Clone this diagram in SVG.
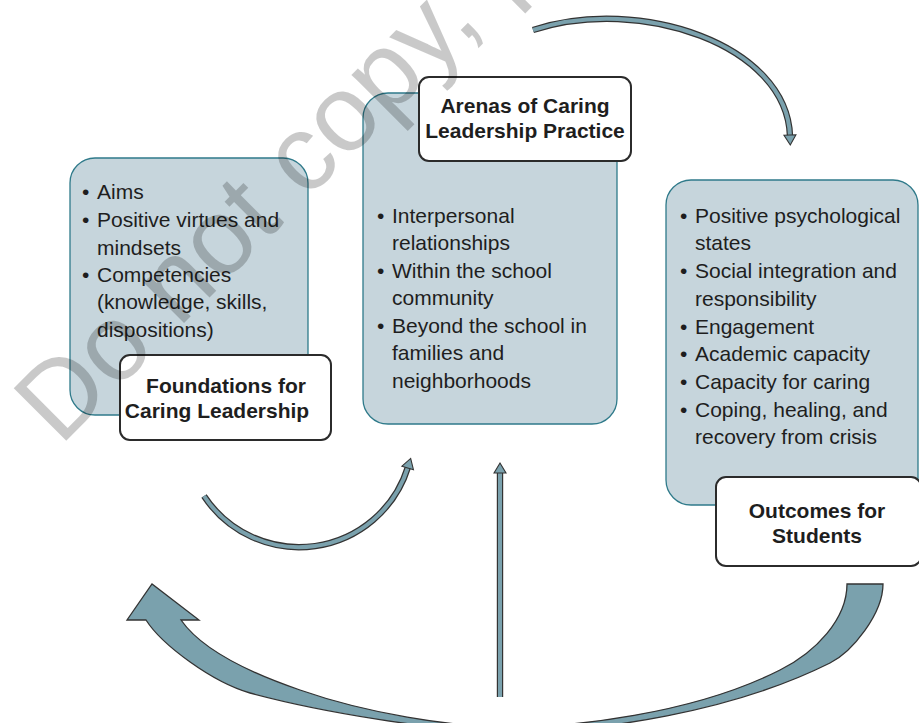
<svg xmlns="http://www.w3.org/2000/svg" width="919" height="723" viewBox="0 0 919 723">
<defs>
<style>
.box{fill:#c6d5dc;stroke:#2f7a8a;stroke-width:1.3}
.lbl{fill:#ffffff;stroke:#2b2b2b;stroke-width:2}
.t{font-family:"Liberation Sans",Arial,sans-serif;font-size:21px;fill:#1e1e1e}
.b{font-family:"Liberation Sans",Arial,sans-serif;font-size:21px;font-weight:bold;fill:#1e1e1e;text-anchor:middle}
.so{fill:none;stroke:#333333;stroke-width:6.4}
.si{fill:none;stroke:#7aa1ad;stroke-width:4}
.big{fill:#7aa1ad;stroke:#333333;stroke-width:1.3;stroke-linejoin:miter}
.wm{font-family:"Liberation Sans",Arial,sans-serif;font-size:108px;fill:#000000;fill-opacity:0.21}
</style>
<marker id="ah" markerUnits="userSpaceOnUse" markerWidth="14" markerHeight="14" refX="1" refY="6.5" orient="auto" overflow="visible">
<path d="M0,0.5 L10,6.5 L0,12.5 Z" fill="#7aa1ad" stroke="#333333" stroke-width="1.1"/>
</marker>
</defs>
<rect width="919" height="723" fill="#ffffff"/>

<g id="foundations">
<rect class="box" x="70" y="158" width="238" height="257" rx="25"/>
<text class="t" x="82" y="199">•</text><text class="t" x="97" y="199">Aims</text>
<text class="t" x="82" y="227">•</text><text class="t" x="97" y="227">Positive virtues and</text>
<text class="t" x="97" y="255">mindsets</text>
<text class="t" x="82" y="282">•</text><text class="t" x="97" y="282">Competencies</text>
<text class="t" x="97" y="309">(knowledge, skills,</text>
<text class="t" x="97" y="337">dispositions)</text>
<rect class="lbl" x="120" y="355" width="211" height="85" rx="10"/>
<text class="b" x="226" y="393">Foundations for</text>
<text class="b" x="217" y="418">Caring Leadership</text>
</g>

<g id="arenas">
<rect class="box" x="363" y="93" width="254" height="331" rx="25"/>
<text class="t" x="377" y="223">•</text><text class="t" x="392" y="223">Interpersonal</text>
<text class="t" x="392" y="250">relationships</text>
<text class="t" x="377" y="278">•</text><text class="t" x="392" y="278">Within the school</text>
<text class="t" x="392" y="305">community</text>
<text class="t" x="377" y="333">•</text><text class="t" x="392" y="333">Beyond the school in</text>
<text class="t" x="392" y="360">families and</text>
<text class="t" x="392" y="388">neighborhoods</text>
<rect class="lbl" x="419" y="77" width="212" height="84" rx="10"/>
<text class="b" x="525" y="113">Arenas of Caring</text>
<text class="b" x="525" y="138">Leadership Practice</text>
</g>

<g id="outcomes">
<rect class="box" x="666" y="180" width="252" height="325" rx="25"/>
<text class="t" x="680" y="223">•</text><text class="t" x="695" y="223">Positive psychological</text>
<text class="t" x="695" y="250">states</text>
<text class="t" x="680" y="278">•</text><text class="t" x="695" y="278">Social integration and</text>
<text class="t" x="695" y="306">responsibility</text>
<text class="t" x="680" y="334">•</text><text class="t" x="695" y="334">Engagement</text>
<text class="t" x="680" y="361">•</text><text class="t" x="695" y="361">Academic capacity</text>
<text class="t" x="680" y="389">•</text><text class="t" x="695" y="389">Capacity for caring</text>
<text class="t" x="680" y="417">•</text><text class="t" x="695" y="417">Coping, healing, and</text>
<text class="t" x="695" y="444">recovery from crisis</text>
<rect class="lbl" x="716" y="477" width="205" height="89" rx="10"/>
<text class="b" x="817" y="518">Outcomes for</text>
<text class="b" x="817" y="543">Students</text>
</g>

<g id="connectors">
<path class="so" d="M533,30 C640,-5 787,45 790,136"/>
<path class="si" d="M533,30 C640,-5 787,45 790,136" marker-end="url(#ah)"/>
<path class="so" d="M204,496 A114,114 0 0 0 408,467"/>
<path class="si" d="M204,496 A114,114 0 0 0 408,467" marker-end="url(#ah)"/>
<path class="so" d="M500,697 L500,472"/>
<path class="si" d="M500,697 L500,472" marker-end="url(#ah)"/>
<path class="big" d="M883,584 C883,614 852,652 830,663 C732,712 600,732 510,732 C440,732 320,712 250,693 C212,682 162,645 146,620 L127,620 L152,584 L199,620 L181,620 C204,653 262,677 300,690 C366,713 450,727 510,727 C570,727 691,715 780,670 C816,652 847,619 847,584 Z"/>
</g>

<text class="wm" transform="translate(60,447) rotate(-45)">Do not copy, p</text>
</svg>
